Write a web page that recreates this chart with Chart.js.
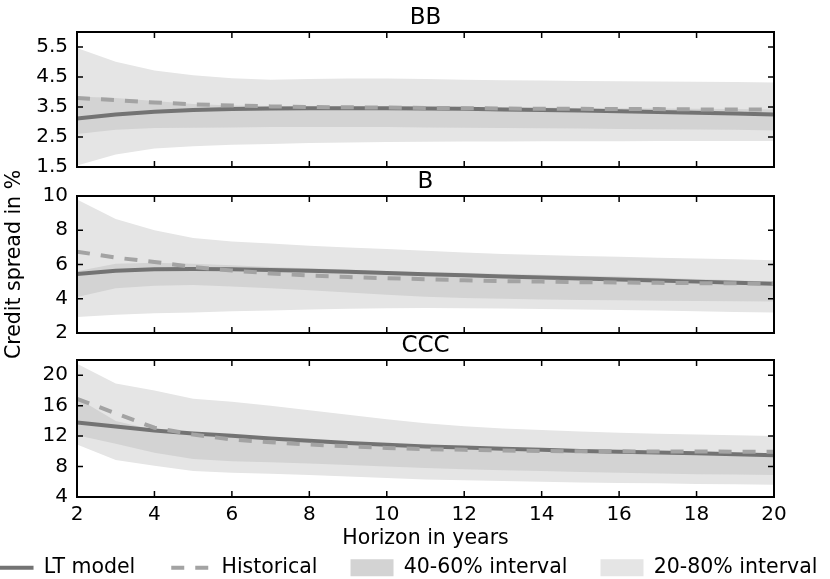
<!DOCTYPE html>
<html><head><meta charset="utf-8">
<script src="https://cdn.jsdelivr.net/npm/chart.js@4.4.1/dist/chart.umd.min.js"></script>
<style>
html,body{margin:0;padding:0;background:#fff;overflow:hidden;}
#wrap{position:relative;width:830px;height:579px;overflow:hidden;background:#fff;}
canvas{position:absolute;left:0;}
</style></head><body>
<div id="wrap">
<canvas id="c1" width="830" height="190" style="top:0px;width:830px;height:190px"></canvas>
<canvas id="c2" width="830" height="215" style="top:164px;width:830px;height:215px"></canvas>
<canvas id="c3" width="830" height="260" style="top:328px;width:830px;height:260px"></canvas>
</div>
<script>
// ---- data ----
const horizon = [2,3,4,5,6,7,8,9,10,11,12,13,14,15,16,17,18,19,20];
const xTicks = [2,4,6,8,10,12,14,16,18,20];
const panelTitles = ['BB','B','CCC'];

const bbTicks = [1.5,2.5,3.5,4.5,5.5];
const bbOuterHi = [5.47,5.01,4.72,4.56,4.46,4.41,4.43,4.45,4.45,4.43,4.41,4.39,4.38,4.37,4.36,4.35,4.34,4.33,4.32];
const bbOuterLo = [1.55,1.92,2.12,2.19,2.24,2.27,2.30,2.32,2.33,2.34,2.35,2.35,2.36,2.36,2.36,2.37,2.37,2.37,2.37];
const bbInnerHi = [3.85,3.80,3.70,3.60,3.55,3.53,3.52,3.52,3.52,3.51,3.50,3.49,3.48,3.47,3.46,3.45,3.44,3.43,3.42];
const bbInnerLo = [2.60,2.74,2.80,2.81,2.82,2.83,2.83,2.83,2.83,2.82,2.81,2.80,2.79,2.78,2.77,2.76,2.75,2.74,2.72];
const bbLT      = [3.12,3.25,3.34,3.40,3.43,3.45,3.46,3.46,3.46,3.45,3.44,3.42,3.40,3.38,3.36,3.33,3.31,3.28,3.25];
const bbHist    = [3.80,3.73,3.65,3.59,3.55,3.52,3.50,3.49,3.48,3.47,3.46,3.45,3.44,3.44,3.43,3.43,3.42,3.42,3.42];

const bTicks = [2,4,6,8,10];
const bOuterHi = [9.80,8.65,8.00,7.55,7.35,7.22,7.10,7.00,6.90,6.80,6.70,6.62,6.55,6.50,6.45,6.40,6.35,6.30,6.25];
const bOuterLo = [2.93,3.07,3.15,3.20,3.27,3.32,3.37,3.41,3.44,3.46,3.45,3.43,3.40,3.37,3.34,3.31,3.27,3.23,3.20];
const bInnerHi = [5.60,6.05,6.10,6.05,5.95,5.85,5.78,5.70,5.62,5.55,5.50,5.45,5.40,5.35,5.30,5.22,5.15,5.08,5.00];
const bInnerLo = [4.10,4.62,4.76,4.80,4.72,4.62,4.50,4.37,4.23,4.12,4.05,4.00,3.96,3.93,3.91,3.89,3.87,3.85,3.84];
const bLT      = [5.45,5.63,5.72,5.74,5.72,5.68,5.63,5.57,5.50,5.43,5.37,5.30,5.24,5.18,5.12,5.06,5.00,4.93,4.87];
const bHist    = [6.75,6.40,6.15,5.85,5.65,5.48,5.35,5.27,5.20,5.14,5.08,5.03,5.00,4.97,4.95,4.93,4.91,4.90,4.88];

const cccTicks = [4,8,12,16,20];
const cccOuterHi = [21.5,18.9,18.0,16.9,16.5,16.0,15.4,14.8,14.2,13.7,13.3,13.0,12.8,12.6,12.45,12.3,12.2,12.1,12.0];
const cccOuterLo = [10.9,8.85,8.1,7.4,7.2,7.05,6.9,6.7,6.5,6.3,6.2,6.1,6.0,5.9,5.85,5.8,5.72,5.66,5.6];
const cccInnerHi = [17.0,14.0,12.8,12.3,11.9,11.6,11.3,11.0,10.8,10.6,10.45,10.3,10.2,10.1,10.0,9.9,9.85,9.8,9.75];
const cccInnerLo = [12.1,11.0,9.8,9.0,8.7,8.55,8.4,8.2,8.0,7.8,7.65,7.5,7.4,7.3,7.2,7.1,7.0,6.95,6.9];
const cccLT      = [13.8,13.25,12.75,12.35,12.05,11.7,11.4,11.1,10.85,10.65,10.5,10.35,10.2,10.05,9.95,9.85,9.75,9.62,9.5];
const cccHist    = [16.9,15.0,13.1,12.2,11.55,11.2,10.9,10.65,10.45,10.3,10.2,10.1,10.05,10.0,10.0,9.98,9.97,9.96,9.95];

const seriesNames = ['LT model','Historical','40-60% interval','20-80% interval'];

// ---- styling ----
const COLORS = {outer:'#e5e5e5', inner:'#d3d3d3', lt:'#737373', hist:'#a3a3a3'};
Chart.defaults.font.family = "'DejaVu Sans', sans-serif";
Chart.defaults.color = '#000';

const pts = arr => horizon.map((h,i)=>({x:h, y:arr[i]}));

function makeDatasets(s){
  return [
    {label:seriesNames[3], data:pts(s.outerHi), fill:'+1', backgroundColor:COLORS.outer, borderColor:'transparent', borderWidth:0, pointRadius:0, order:5},
    {label:'20-80% lower', data:pts(s.outerLo), fill:false, borderColor:'transparent', borderWidth:0, pointRadius:0, order:4},
    {label:seriesNames[2], data:pts(s.innerHi), fill:'+1', backgroundColor:COLORS.inner, borderColor:'transparent', borderWidth:0, pointRadius:0, order:3},
    {label:'40-60% lower', data:pts(s.innerLo), fill:false, borderColor:'transparent', borderWidth:0, pointRadius:0, order:2},
    {label:seriesNames[0], data:pts(s.lt), fill:false, borderColor:COLORS.lt, borderWidth:4, pointRadius:0, order:1},
    {label:seriesNames[1], data:pts(s.hist), fill:false, borderColor:COLORS.hist, borderWidth:4, borderDash:[13,11], pointRadius:0, order:0}
  ];
}

const legendItems = [
  {text:seriesNames[0], pointStyle:'line', strokeStyle:COLORS.lt, fillStyle:COLORS.lt, lineWidth:4, lineDash:[], hidden:false, datasetIndex:4, fontColor:'#000'},
  {text:seriesNames[1], pointStyle:'line', strokeStyle:COLORS.hist, fillStyle:COLORS.hist, lineWidth:4, lineDash:[13,11], lineDashOffset:21, hidden:false, datasetIndex:5, fontColor:'#000'},
  {text:seriesNames[2], pointStyle:'rect', strokeStyle:COLORS.inner, fillStyle:COLORS.inner, lineWidth:0, hidden:false, datasetIndex:2, fontColor:'#000'},
  {text:seriesNames[3], pointStyle:'rect', strokeStyle:COLORS.outer, fillStyle:COLORS.outer, lineWidth:0, hidden:false, datasetIndex:0, fontColor:'#000'}
];

// frame with inward ticks on all four sides
const frameTicks = {
  id:'frameTicks',
  afterDraw(chart){
    const {ctx, chartArea:a, scales} = chart;
    const x = scales.x, y = scales.y;
    ctx.save();
    ctx.strokeStyle = '#000';
    ctx.lineWidth = 1.5;
    ctx.beginPath();
    x.ticks.forEach(t=>{
      const px = x.getPixelForValue(t.value);
      ctx.moveTo(px, a.top); ctx.lineTo(px, a.top+6);
      ctx.moveTo(px, a.bottom); ctx.lineTo(px, a.bottom-6);
    });
    y.ticks.forEach(t=>{
      const py = y.getPixelForValue(t.value);
      ctx.moveTo(a.left, py); ctx.lineTo(a.left+6, py);
      ctx.moveTo(a.right, py); ctx.lineTo(a.right-6, py);
    });
    ctx.stroke();
    ctx.lineWidth = 2;
    ctx.strokeRect(a.left, a.top, a.right-a.left, a.bottom-a.top);
    ctx.restore();
  }
};

function panel(id, s, o){
  return new Chart(document.getElementById(id), {
    type:'line',
    data:{datasets:makeDatasets(s)},
    options:{
      responsive:false, animation:false, events:[], devicePixelRatio:1,
      layout:{padding:{left:o.padL, right:o.padR, top:0, bottom:o.padB}},
      elements:{line:{tension:0, borderCapStyle:'butt'}, point:{radius:0}},
      plugins:{
        title:{display:true, text:o.title, fullSize:false, color:'#000', font:{size:23, weight:'normal'}, padding:{top:4.4, bottom:0}},
        legend: o.legend ? {
          display:true, position:'bottom', align:'center',
          labels:{usePointStyle:true, pointStyleWidth:43, boxHeight:17, padding:33, color:'#000',
                  font:{size:20.5}, generateLabels:()=>legendItems}
        } : {display:false},
        tooltip:{enabled:false}
      },
      scales:{
        x:{type:'linear', position:'bottom', min:2, max:20,
           grid:{display:false, drawTicks:false}, border:{display:false},
           ticks:{display:o.showX, padding:6, color:'#000', font:{size:20}},
           title:{display:o.showX, text:'Horizon in years', color:'#000', font:{size:20.5}, padding:{top:0, bottom:-26.7}},
           afterBuildTicks:sc=>{ sc.ticks = xTicks.map(v=>({value:v})); },
           afterFit:sc=>{ sc.height = o.xH; sc.paddingLeft = 0; sc.paddingRight = 0; }},
        y:{type:'linear', position:'left', min:o.min, max:o.max,
           grid:{display:false, drawTicks:false}, border:{display:false},
           ticks:{padding:9, color:'#000', font:{size:20}, callback:v=>o.fmt(v)},
           title:{display:!!o.yTitle, text:o.yTitle||'', color:'#000', font:{size:20.5}, padding:{top:2.7, bottom:0}},
           afterBuildTicks:sc=>{ sc.ticks = o.ticks.map(v=>({value:v})); },
           afterFit:sc=>{ sc.width = o.yW; sc.paddingTop = 0; sc.paddingBottom = 0; }},
        yr:{type:'linear', position:'right', display:true,
           grid:{display:false, drawTicks:false}, border:{display:false},
           ticks:{display:false},
           afterFit:sc=>{ sc.width = o.rW; sc.paddingTop = 0; sc.paddingBottom = 0; }}
      }
    },
    plugins:[frameTicks]
  });
}

panel('c1', {outerHi:bbOuterHi, outerLo:bbOuterLo, innerHi:bbInnerHi, innerLo:bbInnerLo, lt:bbLT, hist:bbHist},
  {title:panelTitles[0], min:1.5, max:6.0, ticks:bbTicks, fmt:v=>v.toFixed(1), padL:0, padR:0, padB:23, yW:77, rW:56, xH:0, showX:false, legend:false});
panel('c2', {outerHi:bOuterHi, outerLo:bOuterLo, innerHi:bInnerHi, innerLo:bInnerLo, lt:bLT, hist:bHist},
  {title:panelTitles[1], min:2, max:10, ticks:bTicks, fmt:v=>String(v), padL:0, padR:0, padB:46, yW:77, rW:56, xH:0, showX:false, legend:false, yTitle:'Credit spread in %'});
panel('c3', {outerHi:cccOuterHi, outerLo:cccOuterLo, innerHi:cccInnerHi, innerLo:cccInnerLo, lt:cccLT, hist:cccHist},
  {title:panelTitles[2], min:4, max:22, ticks:cccTicks, fmt:v=>String(v), padL:-45, padR:-23, padB:0, yW:122, rW:79, xH:27.5, showX:true, legend:true});
</script>
</body></html>
